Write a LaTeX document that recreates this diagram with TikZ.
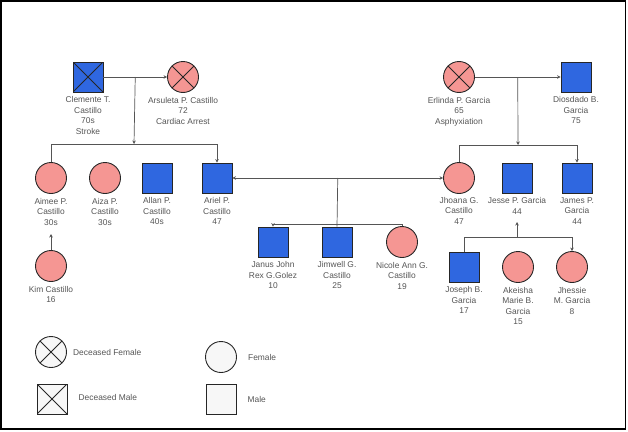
\documentclass[tikz,border=0pt]{standalone}
\usepackage{fontspec}
\setmainfont{Liberation Sans}
\usetikzlibrary{positioning,calc,arrows.meta}
\definecolor{boyblue}{HTML}{2F67E0}
\definecolor{girlpink}{HTML}{F59693}
\definecolor{inkgray}{HTML}{555555}
\definecolor{keyfill}{HTML}{F7F7F7}

\begin{document}
\begin{tikzpicture}[x=1pt,y=-1pt,
    person/.style={draw=black!85,line width=.9pt,inner sep=0pt},
    fem/.style={person,circle,minimum size=31pt,fill=girlpink},
    mal/.style={person,rectangle,minimum size=30pt,fill=boyblue},
    dead/.style={path picture={
        \draw[line width=.9pt,black!85] (path picture bounding box.north west) -- (path picture bounding box.south east)
            (path picture bounding box.north east) -- (path picture bounding box.south west);}},
    txt/.style={font=\fontsize{8.4}{10.5}\selectfont,text=inkgray,align=center,inner sep=0pt},
    link/.style={draw=inkgray,line width=.7pt},
    tip/.style={-{Stealth[length=3.5pt,width=3.5pt]}}]

    \useasboundingbox (0,0) rectangle (628,431);
    \draw[line width=1.2pt] (1,1) rectangle (625.5,429);

    % grandparents
    \node[mal,dead] (clem) at (88,77) {};
    \node[fem,dead] (arsu) at (183,77) {};
    \node[fem,dead] (erl) at (459,77) {};
    \node[mal] (dios) at (576,77) {};

    \node[txt,below=4pt of clem] (clemL) {Clemente T.\\Castillo\\70s\\Stroke};
    \node[txt,below=4pt of arsu] (arsuL) {Arsuleta P. Castillo\\72\\Cardiac Arrest};
    \node[txt,below=4pt of erl] (erlL) {Erlinda P. Garcia\\65\\Asphyxiation};
    \node[txt,below=4pt of dios] (diosL) {Diosdado B.\\Garcia\\75};

    % second row
    \node[fem] (aimee) at (51,178) {};
    \node[fem] (aiza) at (105,178) {};
    \node[mal] (allan) at (157,178) {};
    \node[mal] (ariel) at (217,178) {};
    \node[fem] (jhoana) at (459,178) {};
    \node[mal] (jesse) at (517,178) {};
    \node[mal] (james) at (577,178) {};

    \node[txt,below=4pt of aimee] (aimeeL) {Aimee P.\\Castillo\\30s};
    \node[txt,below=4pt of aiza] (aizaL) {Aiza P.\\Castillo\\30s};
    \node[txt,below=4pt of allan] (allanL) {Allan P.\\Castillo\\40s};
    \node[txt,below=4pt of ariel] (arielL) {Ariel P.\\Castillo\\47};
    \node[txt,below=3pt of jhoana] (jhoanaL) {Jhoana G.\\Castillo\\47};
    \node[txt,below=4pt of jesse] (jesseL) {Jesse P. Garcia\\44};
    \node[txt,below=4pt of james] (jamesL) {James P.\\Garcia\\44};

    % third row
    \node[fem] (kim) at (51,266) {};
    \node[mal] (janus) at (273,242) {};
    \node[mal] (jimwell) at (337,242) {};
    \node[fem] (nicole) at (402,242) {};
    \node[mal] (joseph) at (464,267) {};
    \node[fem] (akeisha) at (518,267) {};
    \node[fem] (jhessie) at (572,267) {};

    \node[txt,below=4pt of kim] (kimL) {Kim Castillo\\16};
    \node[txt,below=4pt of janus] (janusL) {Janus John\\Rex G.Golez\\10};
    \node[txt,below=4pt of jimwell] (jimwellL) {Jimwell G.\\Castillo\\25};
    \node[txt,below=4pt of nicole] (nicoleL) {Nicole Ann G.\\Castillo\\19};
    \node[txt,below=4pt of joseph] (josephL) {Joseph B.\\Garcia\\17};
    \node[txt,below=4pt of akeisha] (akeishaL) {Akeisha\\Marie B.\\Garcia\\15};
    \node[txt,below=4pt of jhessie] (jhessieL) {Jhessie\\M. Garcia\\8};

    % Castillo family
    \coordinate (cstl) at ($(clem.east)!.5!(arsu.west)$);
    \coordinate (cstlkids) at (134,144);
    \draw[link,tip] (clem.east) -- (arsu.west);
    \draw[link,tip] (cstl) -- (cstlkids);
    \draw[link] (aimee.north) |- (cstlkids);
    \draw[link,tip] (cstlkids) -| (ariel.north);

    % Garcia family
    \coordinate (grc) at ($(erl.east)!.5!(dios.west)$);
    \coordinate (grckids) at (518,145);
    \draw[link,tip] (erl.east) -- (dios.west);
    \draw[link,tip] (grc) -- (grckids);
    \draw[link] (jhoana.north) |- (grckids);
    \draw[link,tip] (grckids) -| (james.north);

    % Ariel and Jhoana
    \coordinate (aj) at ($(ariel.east)!.5!(jhoana.west)$);
    \coordinate (ajkids) at (aj |- 0,224);
    \draw[link,{Stealth[length=3.5pt,width=3.5pt]}-{Stealth[length=3.5pt,width=3.5pt]}] (ariel.east) -- (jhoana.west);
    \draw[link] (aj) -- (jimwell.north);
    \draw[link,tip] (ajkids) -| (janus.north);
    \draw[link] (ajkids) -| (nicole.north);

    % Jesse's children
    \coordinate (jsup) at (517,222);
    \coordinate (jskids) at (517,237);
    \draw[link,tip] (jskids) -- (jsup);
    \draw[link] (joseph.north) |- (jskids);
    \draw[link,tip] (jskids) -| (jhessie.north);

    % Aimee to Kim
    \coordinate (kimup) at (51,234);
    \draw[link,tip] (kim.north) -- (kimup);

    % key
    \node[fem,dead,fill=keyfill] (kdf) at (51,352) {};
    \node[mal,dead,fill=keyfill] (kdm) at (52,399) {};
    \node[fem,fill=keyfill] (kf) at (221,357) {};
    \node[mal,fill=keyfill] (km) at (221,399) {};
    \node[txt,anchor=west,right=6pt of kdf] (kdfL) {Deceased Female};
    \node[txt,anchor=west,right=11pt of kdm,yshift=2pt] (kdmL) {Deceased Male};
    \node[txt,anchor=west,right=11pt of kf] (kfL) {Female};
    \node[txt,anchor=west,right=11pt of km] (kmL) {Male};
\end{tikzpicture}
\end{document}
